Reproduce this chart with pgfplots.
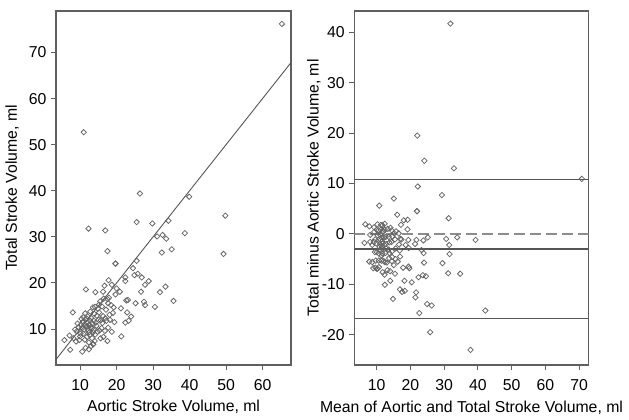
\documentclass[border=0pt]{standalone}
\usepackage{fontspec}
\setmainfont{Liberation Sans}
\usepackage{pgfplots}
\usepackage{pgfplotstable}
\pgfplotsset{compat=1.18}

% aortic vs total stroke volume (ml)
\pgfplotstableread{
a t
12.3 31.8
16.9 31.4
17.5 26.9
19.7 24.2
19.7 24.2
25.5 33.2
29.8 32.9
34.2 33.5
31.1 30.1
32.6 30.4
33.6 29.6
38.7 30.8
32.4 26.6
35.1 27.3
49.8 34.6
49.3 26.3
25.5 24.8
24.5 23.2
24.9 21.7
25.8 22.0
26.9 21.2
22.4 21.2
22.4 20.4
28.8 20.4
27.8 19.6
26.7 18.1
31.9 18.0
33.4 19.2
35.6 16.1
27.5 15.9
27.8 15.2
30.5 14.8
25.2 15.6
22.7 16.2
23.1 16.3
22.9 13.6
24.0 12.7
22.4 11.4
23.3 11.8
21.3 8.4
20.9 18.1
19.7 17.5
20.0 18.8
18.7 19.6
17.8 20.6
16.7 19.4
16.3 18.1
14.2 18.0
11.6 18.6
17.9 16.8
17.5 16.5
15.5 16.0
17.7 15.6
19.2 14.7
21.2 14.5
17.1 14.2
13.5 14.7
14.1 14.8
18.1 13.1
19.4 11.5
16.9 12.3
16.1 11.3
17.7 10.3
18.7 9.4
17.5 7.4
16.4 8.3
13.6 6.7
13.6 6.7
13.6 9.3
8.0 13.6
5.7 7.6
7.3 5.5
10.6 5.1
11.5 5.9
12.4 5.6
8.9 7.3
7.1 8.6
10.0 8.4
10.9 9.0
10.5 10.2
9.1 9.5
10.9 12.6
11.8 12.3
12.6 11.9
12.4 10.9
12.0 10.0
13.9 13.3
14.6 12.9
13.2 10.2
14.5 10.7
15.3 9.7
12.5 9.3
14.1 8.8
11.3 7.7
15.7 11.9
15.1 12.0
11.0 52.7
26.4 39.4
39.9 38.7
65.3 76.2
11.2 11.0
11.8 10.6
12.2 9.6
12.9 10.4
13.4 11.2
13.0 12.4
12.1 11.5
11.5 12.0
10.2 10.9
9.6 10.4
10.8 11.6
13.8 11.8
14.3 11.4
12.6 8.7
11.9 8.3
13.3 8.0
14.8 9.4
15.9 10.2
16.3 12.8
15.2 13.6
14.9 14.4
16.0 14.9
12.8 13.8
11.4 13.4
10.4 12.2
9.3 11.2
8.6 9.9
8.2 8.0
9.8 7.6
12.4 7.1
13.0 6.3
14.0 7.4
15.6 8.0
16.8 9.6
17.2 11.8
18.2 12.0
19.0 13.5
18.5 15.2
16.5 16.6
15.2 15.3
13.7 9.8
12.7 10.8
11.1 9.9
10.1 9.0
12.0 12.8
}\svtable

% mean vs difference (Bland-Altman)
\pgfplotstableread{
m d
22.05 19.5
24.15 14.5
22.2 9.4
21.95 4.5
21.95 4.5
29.35 7.7
31.35 3.1
33.85 -0.7
30.6 -1.0
31.5 -2.2
31.6 -4.0
34.75 -7.9
29.5 -5.8
31.2 -7.8
42.2 -15.2
37.8 -23.0
25.15 -0.7
23.85 -1.3
23.3 -3.2
23.9 -3.8
24.05 -5.7
21.8 -1.2
21.4 -2.0
24.6 -8.4
23.7 -8.2
22.4 -8.6
24.95 -13.9
26.3 -14.2
25.85 -19.5
21.7 -11.6
21.5 -12.6
22.65 -15.7
20.4 -9.6
19.45 -6.5
19.7 -6.8
18.25 -9.3
18.35 -11.3
16.9 -11.0
17.55 -11.5
14.85 -12.9
19.5 -2.8
18.6 -2.2
19.4 -1.2
19.15 0.9
19.2 2.8
18.05 2.7
17.2 1.8
16.1 3.8
15.1 7.0
17.35 -1.1
17.0 -1.0
15.75 0.5
16.65 -2.1
16.95 -4.5
17.85 -6.7
15.65 -2.9
14.1 1.2
14.45 0.7
15.6 -5.0
15.45 -7.9
14.6 -4.6
13.7 -4.8
14.0 -7.4
14.05 -9.3
12.45 -10.1
12.35 -8.1
10.15 -6.9
10.15 -6.9
11.45 -4.3
10.8 5.6
6.65 1.9
6.4 -1.8
7.85 -5.5
8.7 -5.6
9.0 -6.8
8.1 -1.6
7.85 1.5
9.2 -1.6
9.95 -1.9
10.35 -0.3
9.3 0.4
11.75 1.7
12.05 0.5
12.25 -0.7
11.65 -1.5
11.0 -2.0
13.6 -0.6
13.75 -1.7
11.7 -3.0
12.6 -3.8
12.5 -5.6
10.9 -3.2
11.45 -5.3
9.5 -3.6
13.8 -3.8
13.55 -3.1
31.85 41.7
32.9 13.0
39.3 -1.2
70.75 10.9
11.1 -0.2
11.2 -1.2
10.9 -2.6
11.65 -2.5
12.3 -2.2
12.7 -0.6
11.8 -0.6
11.75 0.5
10.55 0.7
10.0 0.8
11.2 0.8
12.8 -2.0
12.85 -2.9
10.65 -3.9
10.1 -3.6
10.65 -5.3
12.1 -5.4
13.05 -5.7
14.55 -3.5
14.4 -1.6
14.65 -0.5
15.45 -1.1
13.3 1.0
12.4 2.0
11.3 1.8
10.25 1.9
9.25 1.3
8.1 -0.2
8.7 -2.2
9.75 -5.3
9.65 -6.7
10.7 -6.6
11.8 -7.6
13.2 -7.2
14.5 -5.4
15.1 -6.2
16.25 -5.5
16.85 -3.3
16.55 0.1
15.25 0.1
11.75 -3.9
11.75 -1.9
10.5 -1.2
9.55 -1.1
12.4 0.8
}\batable

\definecolor{axgray}{RGB}{95,95,95}
\definecolor{mkgray}{RGB}{100,100,100}
\definecolor{lngray}{RGB}{85,85,85}
\definecolor{dshgray}{RGB}{140,140,140}

\pgfplotsset{
  every axis/.append style={
    font=\fontsize{15.8}{19}\selectfont,
    scale only axis,
    anchor=south west,
    axis line style={axgray, line width=1.2pt},
    tick style={axgray, line width=1pt},
    tick align=outside,
    major tick length=5pt,
    tick pos=left,
    xticklabel style={yshift=-6pt},
    yticklabel style={xshift=-1pt},
    /pgf/number format/assume math mode=true,
  },
  pts/.style={only marks, mark=square, mark size=1.9pt,
    mark options={rotate=45, draw=mkgray, fill=none, line width=0.75pt}},
}

\begin{document}
\begin{tikzpicture}
\useasboundingbox (0,0) rectangle (629pt,420pt);

\begin{axis}[
  at={(56pt,55pt)},
  width=235pt, height=354pt,
  xmin=3.4, xmax=67.8, ymin=2.2, ymax=79,
  xtick={10,20,...,60}, ytick={10,20,...,70},
  xlabel={Aortic Stroke Volume, ml},
  ylabel={Total Stroke Volume, ml},
  xlabel style={at={(axis description cs:0.5,-0.118)}, anchor=center},
  ylabel style={at={(axis description cs:-0.187,0.5)}, anchor=center, rotate=0},
]
\addplot[pts] table[x=a, y=t] {\svtable};
\addplot[lngray, line width=0.9pt] coordinates {(3.4,3.4) (67.8,67.8)};
\end{axis}

\begin{axis}[
  at={(354.3pt,55pt)},
  width=234.4pt, height=354pt,
  xmin=3.4, xmax=72.8, ymin=-26, ymax=44.2,
  xtick={10,20,...,70}, ytick={-20,-10,...,40},
  xlabel={Mean of Aortic and Total Stroke Volume, ml},
  ylabel={Total minus Aortic Stroke Volume, ml},
  xlabel style={at={(axis description cs:0.5,-0.121)}, anchor=center},
  ylabel style={at={(axis description cs:-0.172,0.5)}, anchor=center, rotate=0},
]
\addplot[pts] table[x=m, y=d] {\batable};
\addplot[dshgray, line width=1.3pt, dash pattern=on 11pt off 5pt] coordinates {(3.4,0) (72.8,0)};
\addplot[lngray, line width=1.1pt] coordinates {(3.4,10.7) (72.8,10.7)};
\addplot[lngray, line width=1.1pt] coordinates {(3.4,-3.0) (72.8,-3.0)};
\addplot[lngray, line width=1.1pt] coordinates {(3.4,-16.7) (72.8,-16.7)};
\end{axis}
\end{tikzpicture}
\end{document}
